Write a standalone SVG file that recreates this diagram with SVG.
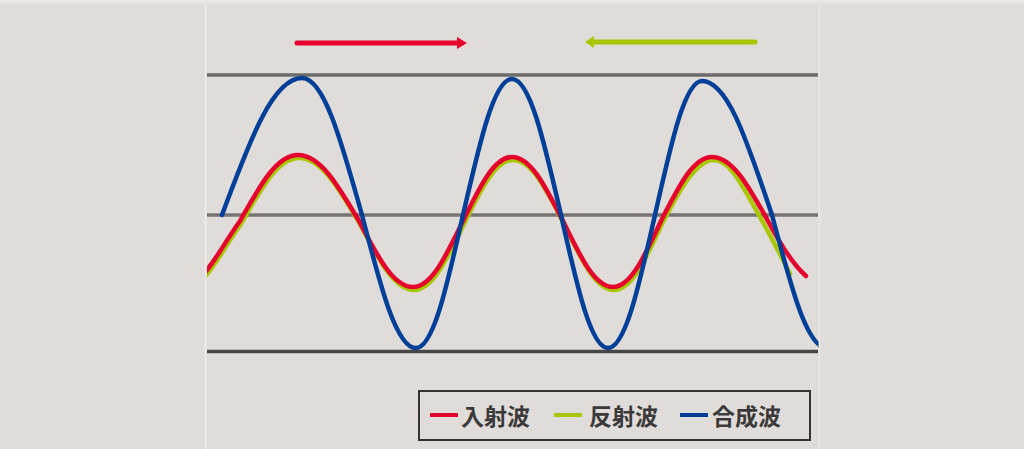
<svg xmlns="http://www.w3.org/2000/svg" width="1024" height="449" viewBox="0 0 1024 449">
  <style>
    .grid { stroke-width: 3.5; fill: none; }
    .wave { fill: none; stroke-width: 4.5; stroke-linecap: round; stroke-linejoin: round; }
    .red { stroke: #e5002d; }
    .green { stroke: #a9c700; }
    .blue { stroke: #003f98; }
    .legend-text { font-family: "Noto Sans CJK JP", "Noto Sans CJK SC", sans-serif; font-size: 23px; font-weight: 700; fill: #3a3a3a; }
  </style>
  <defs>
    <clipPath id="panel">
      <rect x="207" y="0" width="611.5" height="449"/>
    </clipPath>
  </defs>

  <!-- background -->
  <rect x="0" y="0" width="1024" height="449" fill="#e0dcd9"/>
  <rect x="0" y="0" width="1024" height="2.5" fill="#ebe9e7"/>
  <rect x="204.5" y="0" width="2" height="449" fill="#ece9e7"/>
  <rect x="818.5" y="0" width="2" height="449" fill="#e8e6e4"/>

  <!-- grid lines -->
  <g id="grid">
    <line class="grid" x1="207" y1="75" x2="818" y2="75" stroke="#6b6b6b"/>
    <line class="grid" x1="207" y1="215" x2="818" y2="215" stroke="#767574"/>
    <line class="grid" x1="207" y1="351.5" x2="818" y2="351.5" stroke="#474747"/>
  </g>

  <!-- direction arrows -->
  <g id="arrow-incident">
    <line x1="297" y1="43" x2="459" y2="43" stroke="#e5002d" stroke-width="5" stroke-linecap="round"/>
    <polygon points="457,37 467,43 457,49" fill="#e5002d"/>
  </g>
  <g id="arrow-reflected">
    <line x1="755" y1="42" x2="592" y2="42" stroke="#a9c700" stroke-width="5" stroke-linecap="round"/>
    <polygon points="594,36 585,42 594,48" fill="#a9c700"/>
  </g>

  <!-- waves -->
  <g id="waves" clip-path="url(#panel)">
    <path id="reflected-wave" class="wave green" d="M183,290 C203.9,290 220.1,252.7 241,224 C261.9,186.7 278.1,158 299,158 C321,158 338,186.7 360,224 C379.4,261.3 394.6,290 414,290 C432,290 446,261.3 464,224 C481.6,187.8 495.4,160 513,160 C531.4,160 545.6,187.8 564,224 C582,261.3 596,290 614,290 C631.3,290 644.7,261.3 662,224 C680.4,187.8 696.6,160 714,160 C731.3,160 743.1,187.8 764,224 C774,242 783,260 790,274"/>
    <path id="incident-wave" class="wave red" d="M182,287 C202.9,287 219.1,249.7 240,221 C260.9,183.7 277.1,155 298,155 C320,155 337,183.7 359,221 C378.4,258.3 393.6,287 413,287 C431,287 445,258.3 463,221 C480.6,184.8 494.4,157 512,157 C530.4,157 544.6,184.8 563,221 C581,258.3 595,287 613,287 C630.3,287 643.7,258.3 661,221 C679.4,184.8 693.6,157 712,157 C732.2,157 747.8,184.8 768,221 C780.7,244.9 793.3,264.9 806,276"/>
    <path id="composite-wave" class="wave blue" d="M222,215 C250.8,137.6 273.2,78 302,78 C323.6,78 340.4,137.6 362,215 C381.4,290.1 396.6,348 416,348 C432.9,348 446.1,290.1 463,215 C480.6,138.2 494.4,79 512,79 C529.6,79 543.4,138.2 561,215 C577.9,290.1 591.1,348 608,348 C624.9,348 638.1,290.1 655,215 C671.9,139.3 685.1,81 702,81 C727.5,81 746.5,139.3 772,215 C791.8,290.1 807.2,348 827,348"/>
  </g>

  <!-- legend -->
  <g id="legend">
    <rect x="419" y="391" width="391" height="49" fill="none" stroke="#333333" stroke-width="2"/>
    <line x1="430" y1="415" x2="458" y2="415" stroke="#e5002d" stroke-width="4"/>
    <text class="legend-text" x="461" y="425">入射波</text>
    <line x1="554" y1="415" x2="582" y2="415" stroke="#a9c700" stroke-width="4"/>
    <text class="legend-text" x="589" y="425">反射波</text>
    <line x1="680" y1="415" x2="708" y2="415" stroke="#003f98" stroke-width="4"/>
    <text class="legend-text" x="712" y="425">合成波</text>
  </g>
</svg>
